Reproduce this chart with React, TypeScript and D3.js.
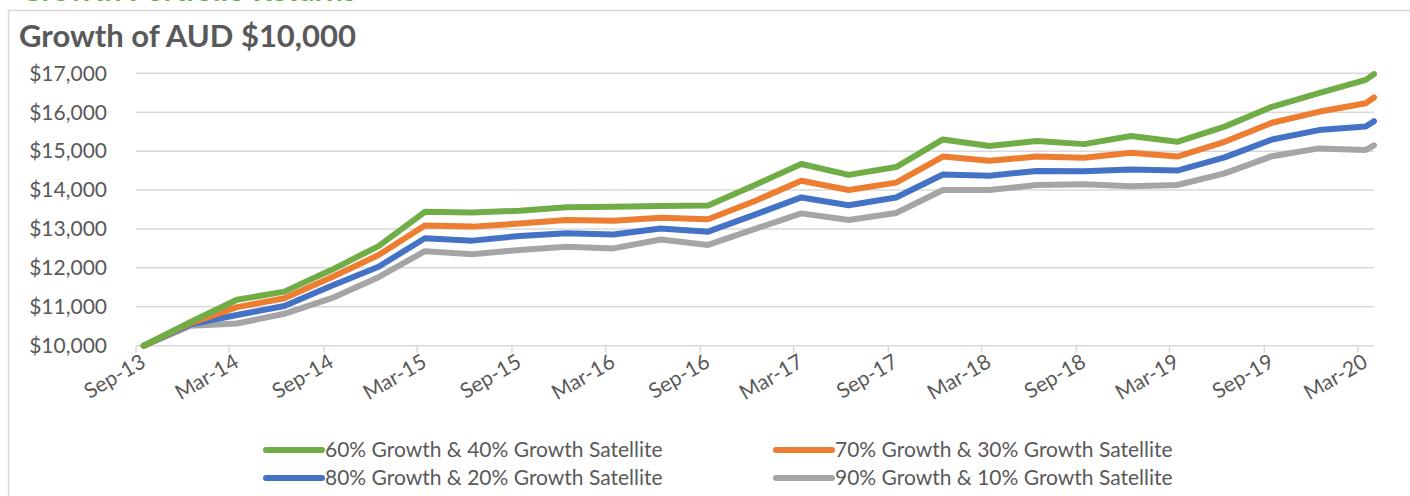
import React, { useEffect, useRef } from "react";
import * as d3 from "d3";

// quarterly values, last point is the start of April 2020
const dates = [
  "2013-09-16", "2013-12-16", "2014-03-16", "2014-06-16", "2014-09-16", "2014-12-16",
  "2015-03-16", "2015-06-16", "2015-09-16", "2015-12-16", "2016-03-16", "2016-06-16",
  "2016-09-16", "2016-12-16", "2017-03-16", "2017-06-16", "2017-09-16", "2017-12-16",
  "2018-03-16", "2018-06-16", "2018-09-16", "2018-12-16", "2019-03-16", "2019-06-16",
  "2019-09-16", "2019-12-16", "2020-03-16", "2020-04-01",
];

const growth60 = [
  10000, 10610, 11180, 11390, 11950, 12560, 13440, 13420, 13470, 13560, 13570, 13590, 13600, 14130,
  14670, 14390, 14590, 15300, 15130, 15260, 15180, 15390, 15240, 15630, 16140, 16490, 16830, 16980,
];
const growth70 = [
  10000, 10580, 10990, 11220, 11760, 12330, 13090, 13060, 13140, 13230, 13210, 13290, 13250, 13720,
  14240, 14000, 14190, 14860, 14750, 14860, 14830, 14960, 14860, 15240, 15730, 16010, 16230, 16380,
];
const growth80 = [
  10000, 10550, 10790, 11020, 11540, 12030, 12760, 12700, 12820, 12890, 12860, 13010, 12930, 13370,
  13810, 13610, 13810, 14400, 14370, 14490, 14480, 14530, 14500, 14840, 15300, 15540, 15630, 15770,
];
const growth90 = [
  10000, 10510, 10570, 10820, 11220, 11760, 12430, 12350, 12460, 12540, 12500, 12730, 12590, 13000,
  13400, 13230, 13410, 14000, 14000, 14130, 14150, 14100, 14130, 14430, 14870, 15070, 15030, 15150,
];

const seriesNames = [
  "60% Growth & 40% Growth Satellite",
  "70% Growth & 30% Growth Satellite",
  "80% Growth & 20% Growth Satellite",
  "90% Growth & 10% Growth Satellite",
];
const seriesColors = ["#70AD47", "#ED7D31", "#4472C4", "#A5A5A5"];

const tickDates = [
  "2013-09-01", "2014-03-01", "2014-09-01", "2015-03-01", "2015-09-01", "2016-03-01", "2016-09-01",
  "2017-03-01", "2017-09-01", "2018-03-01", "2018-09-01", "2019-03-01", "2019-09-01", "2020-03-01",
];
const tickLabels = [
  "Sep-13", "Mar-14", "Sep-14", "Mar-15", "Sep-15", "Mar-16", "Sep-16",
  "Mar-17", "Sep-17", "Mar-18", "Sep-18", "Mar-19", "Sep-19", "Mar-20",
];
const yTicks = [10000, 11000, 12000, 13000, 14000, 15000, 16000, 17000];

const font = "Lato, 'Open Sans', sans-serif";
const textColor = "#595959";
const gridColor = "#D9D9D9";

export default function App() {
  const ref = useRef<SVGSVGElement>(null);

  useEffect(() => {
    const svg = d3.select(ref.current);
    svg.selectAll("*").remove();

    const parse = d3.timeParse("%Y-%m-%d");
    const allSeries = [growth60, growth70, growth80, growth90];

    const x = d3.scaleTime()
      .domain([parse("2013-09-01")!, parse("2020-03-01")!])
      .range([136, 1358]);
    const plotRight = 1374;

    const y = d3.scaleLinear().domain([10000, 17000]).range([345.7, 73.3]);

    // chart frame + cut off heading above
    svg.append("rect").attr("x", 8.5).attr("y", 10.5).attr("width", 1420).attr("height", 500)
      .attr("fill", "none").attr("stroke", gridColor).attr("stroke-width", 1.5);

    svg.append("text").attr("x", 20).attr("y", 0.5).text("Growth Portfolio Returns")
      .attr("font-family", font).attr("font-weight", 700).attr("font-size", 30).attr("fill", "#70AD47");

    svg.append("text").attr("x", 19).attr("y", 47).text("Growth of AUD $10,000")
      .attr("font-family", font).attr("font-weight", 700).attr("font-size", 31).attr("fill", textColor);

    // gridlines
    svg.append("g").selectAll("line").data(yTicks.filter(d => d !== 10000)).join("line")
      .attr("x1", 136).attr("x2", plotRight)
      .attr("y1", d => y(d)).attr("y2", d => y(d))
      .attr("stroke", gridColor).attr("stroke-width", 1.5);

    svg.append("g").selectAll("text").data(yTicks).join("text")
      .attr("x", 107).attr("y", d => y(d)).attr("dy", "0.35em")
      .attr("text-anchor", "end")
      .attr("font-family", font).attr("font-size", 21).attr("fill", textColor)
      .text(d => d3.format("$,")(d));

    // x axis
    const xAxis = svg.append("g");
    xAxis.append("line").attr("x1", 136).attr("x2", plotRight).attr("y1", y(10000)).attr("y2", y(10000))
      .attr("stroke", gridColor).attr("stroke-width", 1.5);
    xAxis.selectAll(".tick").data(tickDates).join("line").attr("class", "tick")
      .attr("x1", d => x(parse(d)!)).attr("x2", d => x(parse(d)!))
      .attr("y1", y(10000)).attr("y2", y(10000) + 7)
      .attr("stroke", gridColor).attr("stroke-width", 1.5);
    xAxis.selectAll("text").data(tickDates).join("text")
      .attr("transform", d => `translate(${x(parse(d)!) + 11}, 366) rotate(-30)`)
      .attr("text-anchor", "end")
      .attr("font-family", font).attr("font-size", 21).attr("fill", textColor)
      .text((d, i) => tickLabels[i]);

    // lines, drawn back to front
    const line = d3.line<number>()
      .x((d, i) => x(parse(dates[i])!))
      .y(d => y(d));

    svg.append("g").selectAll("path").data(allSeries.map((s, i) => ({ s, i })).reverse()).join("path")
      .attr("d", d => line(d.s))
      .attr("fill", "none")
      .attr("stroke", d => seriesColors[d.i])
      .attr("stroke-width", 6)
      .attr("stroke-linejoin", "round")
      .attr("stroke-linecap", "round");

    // legend
    const legendX = [266, 776];
    const legendY = [450, 478];
    const legend = svg.append("g").selectAll("g").data(seriesNames).join("g")
      .attr("transform", (d, i) => `translate(${legendX[i % 2]}, ${legendY[Math.floor(i / 2)]})`);
    legend.append("line").attr("x1", 0).attr("x2", 56).attr("y1", 0).attr("y2", 0)
      .attr("stroke", (d, i) => seriesColors[i]).attr("stroke-width", 6).attr("stroke-linecap", "round");
    legend.append("text").attr("x", 59).attr("y", 0).attr("dy", "0.35em")
      .attr("font-family", font).attr("font-size", 21).attr("fill", textColor)
      .text(d => d);
  }, []);

  return (
    <svg ref={ref} width={1410} height={496}
      style={{ position: "absolute", left: 0, top: 0, background: "#fff" }} />
  );
}
